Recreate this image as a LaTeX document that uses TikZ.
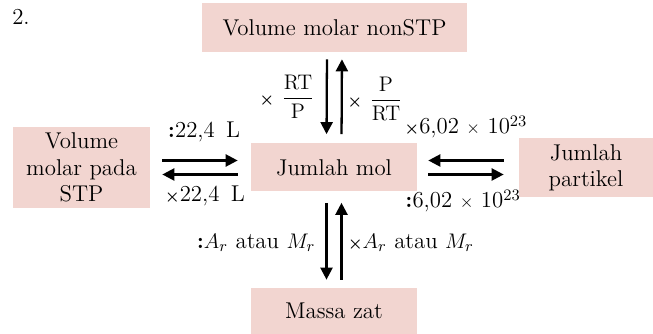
\documentclass[tikz,border=0pt]{standalone}
\usepackage{amsmath}
\usepackage{xcolor}
\usepackage{tikz}
\usetikzlibrary{arrows.meta}
\definecolor{box-pink}{RGB}{242,213,208}
\tikzstyle{quantity} = [rectangle, inner sep=0pt, align=center, fill=box-pink, font=\fontsize{13}{15}\selectfont]
\tikzstyle{factor}   = [inner sep=0pt, font=\fontsize{13}{15}\selectfont]
\tikzstyle{arrow}    = [line width=1.3pt, -{Triangle[length=0.24cm, width=0.24cm]}]
\newcommand{\mul}{{\fontsize{9}{9}\selectfont\boldmath$\times$}}
\newcommand{\tms}{{\fontsize{10}{10}\selectfont$\times$}}
\newcommand{\dvd}{\textbf{:}}

\begin{document}
\begin{tikzpicture}[x=0.02cm, y=0.02cm]

    \useasboundingbox (0, 0) rectangle (653, 334);

    % ===============================
    % 1. NODES
    % ===============================

    \node[factor] (num) at (21, 317) {2.};

    % Centre node
    \node[quantity, minimum width=3.32cm, minimum height=0.96cm] (mol) at (334, 166.5) {Jumlah mol};

    % Outer nodes
    \node[quantity, minimum width=5.3cm, minimum height=0.98cm] (nonstp) at (334.5, 306.5) {Volume molar nonSTP};
    \node[quantity, minimum width=2.74cm, minimum height=1.64cm] (stp) at (81.5, 166.5) {Volume\\molar pada\\STP};
    \node[quantity, minimum width=2.68cm, minimum height=1.18cm] (partikel) at (586, 166.5) {Jumlah\\partikel};
    \node[quantity, minimum width=3.32cm, minimum height=0.92cm] (massa) at (334, 23) {Massa zat};

    % -------------------------------
    % FACTORS
    % -------------------------------
    \node[factor] (f_rtp) at (287, 237) {\mul\ $\dfrac{\mathrm{RT}}{\mathrm{P}}$};
    \node[factor] (f_prt) at (375, 235) {\mul\ $\dfrac{\mathrm{P}}{\mathrm{RT}}$};

    \node[factor] (f_stp_div) at (204, 202) {\dvd22,4\ \,L};
    \node[factor] (f_stp_mul) at (205, 138) {\mul22,4\ \,L};

    \node[factor] (f_avo_mul) at (466, 207) {\mul6,02 \tms\ 10\textsuperscript{23}};
    \node[factor] (f_avo_div) at (463, 133) {\dvd6,02 \tms\ 10\textsuperscript{23}};

    \node[factor] (f_mr_div) at (256, 91) {\dvd$A_r$ atau $M_r$};
    \node[factor] (f_mr_mul) at (411, 91) {\mul$A_r$ atau $M_r$};

    % ===============================
    % 2. CONNECTIONS
    % ===============================

    % nonSTP <-> mol
    \draw[arrow, shorten <=0.14cm, shorten >=0.18cm] ([xshift=-0.15cm]nonstp.south) -- ([xshift=-0.15cm]mol.north);
    \draw[arrow, shorten <=0.18cm, shorten >=0.14cm] ([xshift=0.15cm]mol.north) -- ([xshift=0.15cm]nonstp.south);

    % STP <-> mol
    \draw[arrow, shorten <=0.24cm, shorten >=0.26cm] ([yshift=0.14cm]stp.east) -- ([yshift=0.14cm]mol.west);
    \draw[arrow, shorten <=0.26cm, shorten >=0.24cm] ([yshift=-0.14cm]mol.west) -- ([yshift=-0.14cm]stp.east);

    % partikel <-> mol
    \draw[arrow, shorten <=0.3cm, shorten >=0.22cm] ([yshift=0.14cm]partikel.west) -- ([yshift=0.14cm]mol.east);
    \draw[arrow, shorten <=0.22cm, shorten >=0.3cm] ([yshift=-0.14cm]mol.east) -- ([yshift=-0.14cm]partikel.west);

    % mol <-> massa
    \draw[arrow, shorten <=0.22cm, shorten >=0.16cm] ([xshift=-0.15cm]mol.south) -- ([xshift=-0.15cm]massa.north);
    \draw[arrow, shorten <=0.16cm, shorten >=0.22cm] ([xshift=0.15cm]massa.north) -- ([xshift=0.15cm]mol.south);

\end{tikzpicture}
\end{document}
